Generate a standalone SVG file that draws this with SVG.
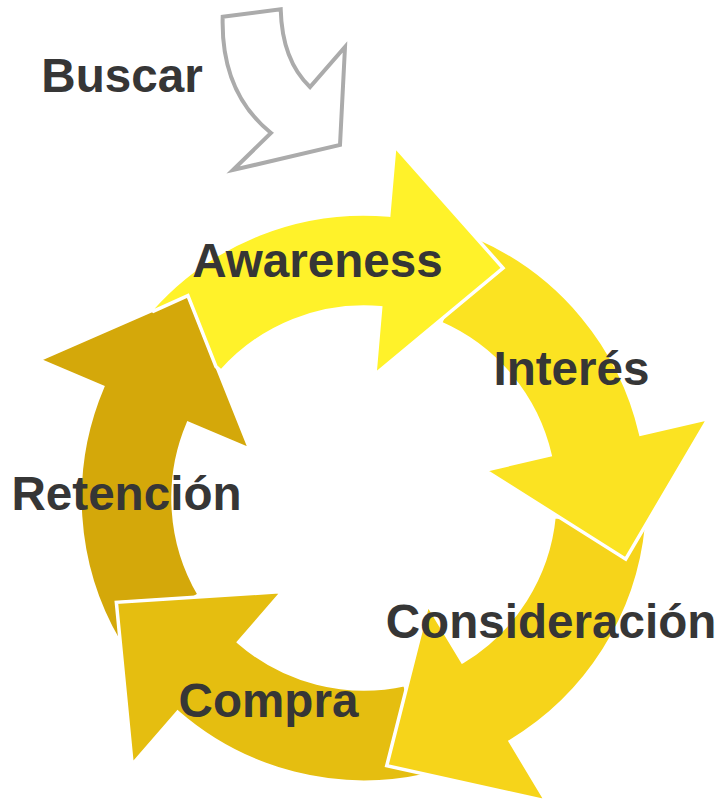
<svg xmlns="http://www.w3.org/2000/svg" xmlns:xlink="http://www.w3.org/1999/xlink" width="721" height="800" viewBox="0 0 721 800">
  <style>
    .lbl { font-family: "Liberation Sans", Arial, sans-serif; font-weight: bold; font-size: 47.6px; fill: #363636; text-anchor: middle; }
    .seg { stroke: #ffffff; stroke-width: 3.5; stroke-linejoin: miter; }
  </style>
  <defs>
    <path id="arrow" d="M -212.4,-188.6 A 284 284 0 0 1 24.75,-282.92 L 30.8,-352 L 139,-230 L 10.9,-123.5 L 16.65,-190.27 A 191 191 0 0 0 -142.8,-126.8 L -148.1,-131.5 L -176.1,-202.3 L -210.5,-186.9 Z"/>
  </defs>
  <rect width="721" height="800" fill="#ffffff"/>

  <g id="buscar">
    <path d="M 222.7,16.7 L 280.7,9.3 C 281.5,40 290,68 310,87 L 345,47 L 340,145 L 233,170 L 271,133 C 245,112 221,78 222.7,16.7 Z" fill="#ffffff" stroke="#ababab" stroke-width="4" stroke-linejoin="miter"/>
    <text class="lbl" x="122" y="92">Buscar</text>
  </g>

  <g id="retencion">
    <use xlink:href="#arrow" class="seg" fill="#d4a80a" transform="translate(364,498) rotate(288)"/>
  </g>
  <g id="compra">
    <use xlink:href="#arrow" class="seg" fill="#e5be10" transform="translate(364,498) rotate(216)"/>
  </g>
  <g id="consideracion">
    <use xlink:href="#arrow" class="seg" fill="#f6d41a" transform="translate(364,498) rotate(144)"/>
  </g>
  <g id="interes">
    <use xlink:href="#arrow" class="seg" fill="#fbe322" transform="translate(364,498) rotate(72)"/>
  </g>
  <g id="awareness">
    <use xlink:href="#arrow" class="seg" fill="#fff22a" transform="translate(364,498)"/>
  </g>

  <g id="labels">
    <text class="lbl" x="317.5" y="277">Awareness</text>
    <text class="lbl" x="571.5" y="385">Interés</text>
    <text class="lbl" x="551" y="638">Consideración</text>
    <text class="lbl" x="268.5" y="717">Compra</text>
    <text class="lbl" x="126.5" y="510">Retención</text>
  </g>
</svg>
